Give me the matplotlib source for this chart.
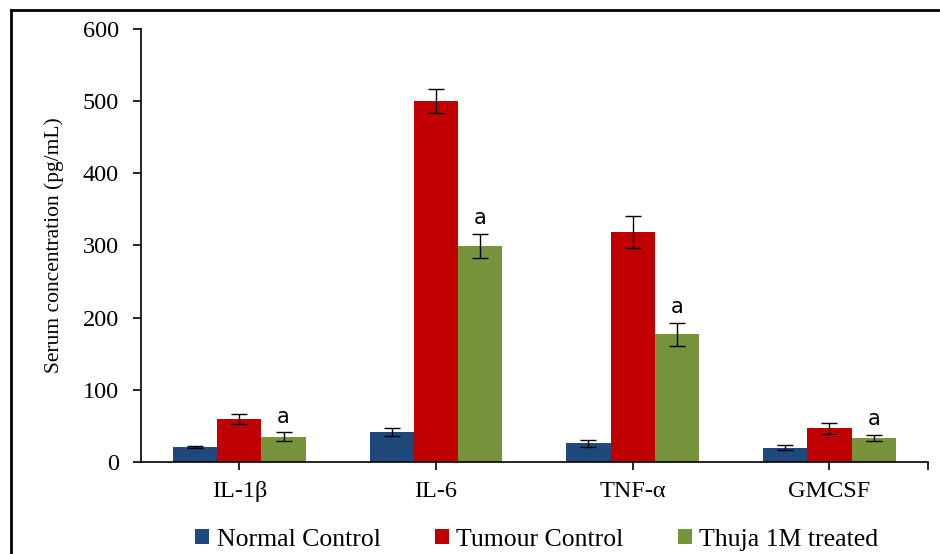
import numpy as np
import matplotlib
matplotlib.use('Agg')
import matplotlib.pyplot as plt
from matplotlib.patches import Patch
from matplotlib.lines import Line2D

cytokines = ['IL-1\u03b2', 'IL-6', 'TNF-\u03b1', 'GMCSF']
groups = ['Normal Control', 'Tumour Control', 'Thuja 1M treated']
normal = [21, 42, 26, 20]
normal_err = [1.5, 5.5, 5, 3]
tumour = [60, 500, 319, 47]
tumour_err = [7, 16, 22, 7.5]
thuja = [35, 299, 177, 33]
thuja_err = [6, 17, 16, 4.5]
sig_marks = ['a', 'a', 'a', 'a']

colors = ['#1F497D', '#C00000', '#77933C']

plt.rcParams['font.family'] = ['Liberation Serif', 'DejaVu Serif']

fig = plt.figure(figsize=(9.4, 5.54), dpi=100)
ax = fig.add_axes([0.15, 0.166, 0.837, 0.782])

x = np.arange(len(cytokines))
w = 0.225
series = [(normal, normal_err), (tumour, tumour_err), (thuja, thuja_err)]
for i, (vals, errs) in enumerate(series):
    ax.bar(x + (i - 1) * w, vals, w, color=colors[i], yerr=errs,
           error_kw=dict(ecolor='black', elinewidth=1, capsize=5.5, capthick=1))

# significance letters above the treated bars
for xi, v, e, m in zip(x, thuja, thuja_err, sig_marks):
    ax.text(xi + w, v + e + 8, m, ha='center', va='bottom',
            fontsize=15, family=['DejaVu Sans'])

ax.set_xlim(-0.5, 3.5)
ax.set_ylim(0, 600)
ax.set_yticks(range(0, 601, 100))
ax.set_xticks(list(x) + [3.5])
ax.set_xticklabels(cytokines + [''])
ax.tick_params(axis='both', labelsize=17.5, direction='out', length=6, width=1.2)
ax.tick_params(axis='x', pad=8)
ax.tick_params(axis='y', pad=10)
ax.spines['top'].set_visible(False)
ax.spines['right'].set_visible(False)
ax.spines['left'].set_linewidth(1.2)
ax.spines['bottom'].set_linewidth(1.2)
ax.set_ylabel('Serum concentration (pg/mL)', fontsize=15.5, labelpad=13)

handles = [Patch(facecolor=c) for c in colors]
fig.legend(handles, groups, loc='center', bbox_to_anchor=(0.571, 0.026),
           ncol=3, frameon=False, fontsize=18.5, handlelength=0.55,
           handleheight=0.55, handletextpad=0.3, columnspacing=2.1)

# outer frame (left and top edges visible)
fig.add_artist(Line2D([0.012, 0.012], [-0.1, 0.982], color='black',
                      lw=2, transform=fig.transFigure))
fig.add_artist(Line2D([0.012, 1.1], [0.982, 0.982], color='black',
                      lw=2, transform=fig.transFigure))

fig.savefig('out.png', dpi=100)
